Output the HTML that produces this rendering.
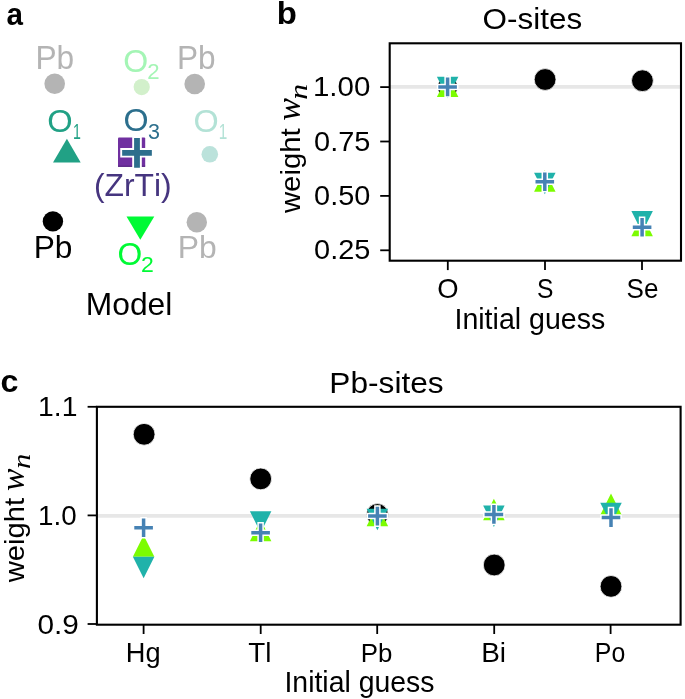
<!DOCTYPE html>
<html><head><meta charset="utf-8"><style>
html,body{margin:0;padding:0;background:#fff;}
body{width:685px;height:699px;overflow:hidden;}
svg{display:block;}
.wrap{will-change:transform;}
text{font-kerning:none;}
</style></head><body>
<div class="wrap"><svg width="685" height="699" viewBox="0 0 685 699">
<rect width="685" height="699" fill="#fff"/>
<text x="6.53" y="24.8" font-size="31.5" textLength="16.48" lengthAdjust="spacingAndGlyphs" font-family='"Liberation Sans", sans-serif' font-weight="bold" fill="#000">a</text>
<text x="35.5" y="68.5" font-size="32.5" textLength="38.73" lengthAdjust="spacingAndGlyphs" font-family='"Liberation Sans", sans-serif' fill="#b4b4b4">Pb</text>
<circle cx="54.7" cy="83.8" r="10.3" fill="#b4b4b4"/>
<text x="123.38" y="71.7" font-size="32" textLength="24.95" lengthAdjust="spacingAndGlyphs" font-family='"Liberation Sans", sans-serif' fill="#a4f5b5">O</text>
<text x="147.38" y="78.5" font-size="22" textLength="12.33" lengthAdjust="spacingAndGlyphs" font-family='"Liberation Sans", sans-serif' fill="#a4f5b5">2</text>
<circle cx="141.7" cy="87.1" r="8.1" fill="#d2f0cb"/>
<text x="176.91" y="68.5" font-size="32.5" textLength="38.62" lengthAdjust="spacingAndGlyphs" font-family='"Liberation Sans", sans-serif' fill="#b4b4b4">Pb</text>
<circle cx="194.7" cy="84" r="10.3" fill="#b4b4b4"/>
<text x="47.25" y="131.7" font-size="32" textLength="25.41" lengthAdjust="spacingAndGlyphs" font-family='"Liberation Sans", sans-serif' fill="#21a185">O</text>
<text x="73.12" y="138.5" font-size="21.7" textLength="7.87" lengthAdjust="spacingAndGlyphs" font-family='"Liberation Sans", sans-serif' fill="#21a185">1</text>
<polygon points="66.9,138.8 53,162.6 80.7,162.6" fill="#21a185"/>
<text x="123.47" y="131.4" font-size="32" textLength="25.07" lengthAdjust="spacingAndGlyphs" font-family='"Liberation Sans", sans-serif' fill="#2c6f8d">O</text>
<text x="147.98" y="138.8" font-size="21.7" textLength="11.96" lengthAdjust="spacingAndGlyphs" font-family='"Liberation Sans", sans-serif' fill="#2c6f8d">3</text>
<rect x="118" y="137.6" width="27.2" height="29.2" rx="1" fill="#7030a0"/>
<rect x="118" y="165.6" width="27.2" height="1.3" fill="#5a2a85"/>
<path d="M120.25,152.8H153.75M137,136.05V169.55" stroke="#fff" stroke-width="9.6" fill="none"/><path d="M122.15,152.8H151.85M137,137.95V167.65" stroke="#2d6e8c" stroke-width="5.8" fill="none"/>
<text x="193.47" y="131.7" font-size="32" textLength="25.18" lengthAdjust="spacingAndGlyphs" font-family='"Liberation Sans", sans-serif' fill="#b3e2d6">O</text>
<text x="218.83" y="138.6" font-size="21.7" textLength="8.51" lengthAdjust="spacingAndGlyphs" font-family='"Liberation Sans", sans-serif' fill="#b3e2d6">1</text>
<circle cx="209.8" cy="154.3" r="8.3" fill="#bbe2db"/>
<text x="93.93" y="195.8" font-size="31" textLength="77.75" lengthAdjust="spacingAndGlyphs" font-family='"Liberation Sans", sans-serif' fill="#46357f">(ZrTi)</text>
<circle cx="52.9" cy="221.4" r="10.2" fill="#000"/>
<text x="33.7" y="257.9" font-size="31.7" textLength="38.73" lengthAdjust="spacingAndGlyphs" font-family='"Liberation Sans", sans-serif' fill="#000">Pb</text>
<polygon points="126.5,216.4 154.3,216.4 140.3,239.8" fill="#00fa35"/>
<text x="117.39" y="264.9" font-size="32" textLength="24.73" lengthAdjust="spacingAndGlyphs" font-family='"Liberation Sans", sans-serif' fill="#00fa35">O</text>
<text x="141.14" y="271.8" font-size="22" textLength="12.82" lengthAdjust="spacingAndGlyphs" font-family='"Liberation Sans", sans-serif' fill="#00fa35">2</text>
<circle cx="196.8" cy="222.3" r="10.2" fill="#b4b4b4"/>
<text x="177.89" y="258.1" font-size="31.7" textLength="38.95" lengthAdjust="spacingAndGlyphs" font-family='"Liberation Sans", sans-serif' fill="#b4b4b4">Pb</text>
<text x="85.79" y="315.2" font-size="32" textLength="86.53" lengthAdjust="spacingAndGlyphs" font-family='"Liberation Sans", sans-serif' fill="#000">Model</text>
<text x="276.83" y="23.8" font-size="31.5" textLength="20.12" lengthAdjust="spacingAndGlyphs" font-family='"Liberation Sans", sans-serif' font-weight="bold" fill="#000">b</text>
<text x="482.61" y="28.6" font-size="29.5" textLength="99.52" lengthAdjust="spacingAndGlyphs" font-family='"Liberation Sans", sans-serif' fill="#000">O-sites</text>
<line x1="389.7" y1="86.9" x2="681" y2="86.9" stroke="#e7e7e7" stroke-width="3.8"/>
<circle cx="447.6" cy="87.1" r="10.2" fill="#000" stroke="#fff" stroke-width="0.8"/><polygon points="447.6,75.45 436.85,96.95 458.35,96.95" fill="#7cfc00"/><polygon points="447.6,98.25 436.85,76.75 458.35,76.75" fill="#20b2aa"/><path d="M436.8,86.9H458.4M447.6,76.1V97.7" stroke="#fff" stroke-width="6.5" fill="none"/><path d="M438.3,86.9H456.9M447.6,77.6V96.2" stroke="#4682b4" stroke-width="3.5" fill="none"/>
<circle cx="545.1" cy="79.5" r="10.9" fill="#000" stroke="#fff" stroke-width="0.8"/>
<polygon points="544.8,170.25 534.05,191.75 555.55,191.75" fill="#7cfc00"/><polygon points="544.8,194.25 534.05,172.75 555.55,172.75" fill="#20b2aa"/><path d="M534,181.7H555.6M544.8,170.9V192.5" stroke="#fff" stroke-width="6.5" fill="none"/><path d="M535.5,181.7H554.1M544.8,172.4V191" stroke="#4682b4" stroke-width="3.5" fill="none"/>
<circle cx="642.4" cy="80.7" r="10.9" fill="#000" stroke="#fff" stroke-width="0.8"/>
<polygon points="642.1,214.85 631.35,236.35 652.85,236.35" fill="#7cfc00"/><polygon points="642.1,232.55 631.35,211.05 652.85,211.05" fill="#20b2aa"/><path d="M631.3,227.2H652.9M642.1,216.4V238" stroke="#fff" stroke-width="6.5" fill="none"/><path d="M632.8,227.2H651.4M642.1,217.9V236.5" stroke="#4682b4" stroke-width="3.5" fill="none"/>
<rect x="389.7" y="43.3" width="291.3" height="217.4" fill="none" stroke="#000" stroke-width="2.1"/>
<line x1="380.2" y1="87.1" x2="389.7" y2="87.1" stroke="#000" stroke-width="1.8"/>
<line x1="380.2" y1="141.5" x2="389.7" y2="141.5" stroke="#000" stroke-width="1.8"/>
<line x1="380.2" y1="195.9" x2="389.7" y2="195.9" stroke="#000" stroke-width="1.8"/>
<line x1="380.2" y1="250.3" x2="389.7" y2="250.3" stroke="#000" stroke-width="1.8"/>
<text x="312.95" y="96.25" font-size="27.6" textLength="57.4" lengthAdjust="spacingAndGlyphs" font-family='"Liberation Sans", sans-serif' fill="#000">1.00</text>
<text x="314.07" y="150.65" font-size="27.6" textLength="56.35" lengthAdjust="spacingAndGlyphs" font-family='"Liberation Sans", sans-serif' fill="#000">0.75</text>
<text x="314.07" y="205.05" font-size="27.6" textLength="56.26" lengthAdjust="spacingAndGlyphs" font-family='"Liberation Sans", sans-serif' fill="#000">0.50</text>
<text x="314.07" y="259.45" font-size="27.6" textLength="56.35" lengthAdjust="spacingAndGlyphs" font-family='"Liberation Sans", sans-serif' fill="#000">0.25</text>
<line x1="447.8" y1="260.7" x2="447.8" y2="270.1" stroke="#000" stroke-width="1.8"/>
<line x1="545" y1="260.7" x2="545" y2="270.1" stroke="#000" stroke-width="1.8"/>
<line x1="642" y1="260.7" x2="642" y2="270.1" stroke="#000" stroke-width="1.8"/>
<text x="437.2" y="298.3" font-size="28" textLength="21.31" lengthAdjust="spacingAndGlyphs" font-family='"Liberation Sans", sans-serif' fill="#000">O</text>
<text x="536.88" y="298.3" font-size="28" textLength="16.45" lengthAdjust="spacingAndGlyphs" font-family='"Liberation Sans", sans-serif' fill="#000">S</text>
<text x="626.52" y="298.3" font-size="28" textLength="31.84" lengthAdjust="spacingAndGlyphs" font-family='"Liberation Sans", sans-serif' fill="#000">Se</text>
<text x="454.47" y="328.5" font-size="29.2" textLength="150.77" lengthAdjust="spacingAndGlyphs" font-family='"Liberation Sans", sans-serif' fill="#000">Initial guess</text>
<text transform="translate(300,0) rotate(-90)" x="-213.06" y="0" font-size="28.5" textLength="84.67" lengthAdjust="spacingAndGlyphs" font-family='"Liberation Sans", sans-serif' fill="#000">weight</text>
<text transform="translate(300,0) rotate(-90)" x="-120.71" y="0" font-size="33" textLength="22.66" lengthAdjust="spacingAndGlyphs" font-family='"Liberation Serif", serif' font-style="italic" fill="#000">w</text>
<text transform="translate(306.6,0) rotate(-90)" x="-99.73" y="0" font-size="26" textLength="15.84" lengthAdjust="spacingAndGlyphs" font-family='"Liberation Serif", serif' font-style="italic" fill="#000">n</text>
<text x="0.49" y="391.8" font-size="31.5" textLength="17.96" lengthAdjust="spacingAndGlyphs" font-family='"Liberation Sans", sans-serif' font-weight="bold" fill="#000">c</text>
<text x="329.3" y="393.3" font-size="30" textLength="114.34" lengthAdjust="spacingAndGlyphs" font-family='"Liberation Sans", sans-serif' fill="#000">Pb-sites</text>
<line x1="96.9" y1="515.8" x2="680.6" y2="515.8" stroke="#e7e7e7" stroke-width="3.8"/>
<circle cx="144.1" cy="434.3" r="10.9" fill="#000" stroke="#fff" stroke-width="0.8"/>
<polygon points="143.6,535.25 132.85,556.75 154.35,556.75" fill="#7cfc00"/><polygon points="143.6,578.15 132.85,556.65 154.35,556.65" fill="#20b2aa"/><path d="M132.8,527.8H154.4M143.6,517V538.6" stroke="#fff" stroke-width="6.5" fill="none"/><path d="M134.3,527.8H152.9M143.6,518.5V537.1" stroke="#4682b4" stroke-width="3.5" fill="none"/>
<circle cx="260.7" cy="478.9" r="10.9" fill="#000" stroke="#fff" stroke-width="0.8"/>
<polygon points="260.6,519.75 249.85,541.25 271.35,541.25" fill="#7cfc00"/><polygon points="260.6,532.75 249.85,511.25 271.35,511.25" fill="#20b2aa"/><path d="M249.8,532.8H271.4M260.6,522V543.6" stroke="#fff" stroke-width="6.5" fill="none"/><path d="M251.3,532.8H269.9M260.6,523.5V542.1" stroke="#4682b4" stroke-width="3.5" fill="none"/>
<circle cx="377.4" cy="514.6" r="11" fill="#000" stroke="#fff" stroke-width="0.8"/><polygon points="377.4,504.85 366.65,526.35 388.15,526.35" fill="#7cfc00"/><polygon points="377.4,530.35 366.65,508.85 388.15,508.85" fill="#20b2aa"/><path d="M366.6,516.1H388.2M377.4,505.3V526.9" stroke="#fff" stroke-width="6.5" fill="none"/><path d="M368.1,516.1H386.7M377.4,506.8V525.4" stroke="#4682b4" stroke-width="3.5" fill="none"/>
<circle cx="494.2" cy="565" r="10.9" fill="#000" stroke="#fff" stroke-width="0.8"/>
<polygon points="493.9,498.65 483.15,520.15 504.65,520.15" fill="#7cfc00"/><polygon points="493.9,527.05 483.15,505.55 504.65,505.55" fill="#20b2aa"/><path d="M483.1,514.4H504.7M493.9,503.6V525.2" stroke="#fff" stroke-width="6.5" fill="none"/><path d="M484.6,514.4H503.2M493.9,505.1V523.7" stroke="#4682b4" stroke-width="3.5" fill="none"/>
<circle cx="611" cy="586.4" r="10.9" fill="#000" stroke="#fff" stroke-width="0.8"/>
<polygon points="611,493.45 600.25,514.95 621.75,514.95" fill="#7cfc00"/><polygon points="611,524.15 600.25,502.65 621.75,502.65" fill="#20b2aa"/><path d="M600.2,517.6H621.8M611,506.8V528.4" stroke="#fff" stroke-width="6.5" fill="none"/><path d="M601.7,517.6H620.3M611,508.3V526.9" stroke="#4682b4" stroke-width="3.5" fill="none"/>
<rect x="96.9" y="406.8" width="583.7" height="217.9" fill="none" stroke="#000" stroke-width="2.1"/>
<line x1="87.6" y1="406.8" x2="96.9" y2="406.8" stroke="#000" stroke-width="1.8"/>
<line x1="87.6" y1="515.4" x2="96.9" y2="515.4" stroke="#000" stroke-width="1.8"/>
<line x1="87.6" y1="624" x2="96.9" y2="624" stroke="#000" stroke-width="1.8"/>
<text x="38.04" y="416.4" font-size="27.4" textLength="39.34" lengthAdjust="spacingAndGlyphs" font-family='"Liberation Sans", sans-serif' fill="#000">1.1</text>
<text x="37.98" y="524.9" font-size="27.4" textLength="38.6" lengthAdjust="spacingAndGlyphs" font-family='"Liberation Sans", sans-serif' fill="#000">1.0</text>
<text x="37.54" y="634.3" font-size="27.4" textLength="41.37" lengthAdjust="spacingAndGlyphs" font-family='"Liberation Sans", sans-serif' fill="#000">0.9</text>
<line x1="143.6" y1="624.7" x2="143.6" y2="634" stroke="#000" stroke-width="1.8"/>
<line x1="260.7" y1="624.7" x2="260.7" y2="634" stroke="#000" stroke-width="1.8"/>
<line x1="377.2" y1="624.7" x2="377.2" y2="634" stroke="#000" stroke-width="1.8"/>
<line x1="494.2" y1="624.7" x2="494.2" y2="634" stroke="#000" stroke-width="1.8"/>
<line x1="610.6" y1="624.7" x2="610.6" y2="634" stroke="#000" stroke-width="1.8"/>
<text x="125.87" y="662" font-size="27.3" textLength="34.79" lengthAdjust="spacingAndGlyphs" font-family='"Liberation Sans", sans-serif' fill="#000">Hg</text>
<text x="248.37" y="661.9" font-size="27.3" textLength="23.19" lengthAdjust="spacingAndGlyphs" font-family='"Liberation Sans", sans-serif' fill="#000">Tl</text>
<text x="360.68" y="662.2" font-size="26.6" textLength="31.6" lengthAdjust="spacingAndGlyphs" font-family='"Liberation Sans", sans-serif' fill="#000">Pb</text>
<text x="481.2" y="661.7" font-size="26.8" textLength="24.88" lengthAdjust="spacingAndGlyphs" font-family='"Liberation Sans", sans-serif' fill="#000">Bi</text>
<text x="594.86" y="661.9" font-size="27.3" textLength="30.38" lengthAdjust="spacingAndGlyphs" font-family='"Liberation Sans", sans-serif' fill="#000">Po</text>
<text x="284.48" y="691.7" font-size="29" textLength="149.95" lengthAdjust="spacingAndGlyphs" font-family='"Liberation Sans", sans-serif' fill="#000">Initial guess</text>
<text transform="translate(23.5,0) rotate(-90)" x="-582.26" y="0" font-size="28.5" textLength="84.47" lengthAdjust="spacingAndGlyphs" font-family='"Liberation Sans", sans-serif' fill="#000">weight</text>
<text transform="translate(23.5,0) rotate(-90)" x="-490.91" y="0" font-size="33" textLength="22.45" lengthAdjust="spacingAndGlyphs" font-family='"Liberation Serif", serif' font-style="italic" fill="#000">w</text>
<text transform="translate(30.3,0) rotate(-90)" x="-468.9" y="0" font-size="26" textLength="15.37" lengthAdjust="spacingAndGlyphs" font-family='"Liberation Serif", serif' font-style="italic" fill="#000">n</text>
</svg></div>
</body></html>
